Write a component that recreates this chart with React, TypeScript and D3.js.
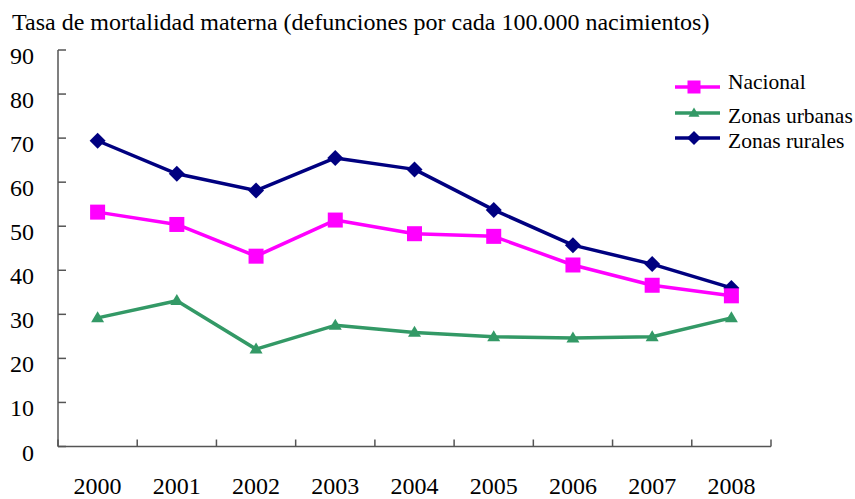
import React from "react";
import * as d3 from "d3";

const years = ["2000", "2001", "2002", "2003", "2004", "2005", "2006", "2007", "2008"];
const nacional = [53.2, 50.4, 43.2, 51.4, 48.3, 47.7, 41.2, 36.6, 34.2];
const urbanas = [29.2, 33.1, 22.1, 27.5, 25.9, 24.9, 24.6, 24.9, 29.2];
const rurales = [69.4, 61.9, 58.1, 65.5, 62.9, 53.7, 45.7, 41.4, 36.0];
const yTicks = [0, 10, 20, 30, 40, 50, 60, 70, 80, 90];
const title = "Tasa de mortalidad materna (defunciones por cada 100.000 nacimientos)";
const seriesNames = ["Nacional", "Zonas urbanas", "Zonas rurales"];

const W = 855, H = 499;
const left = 58, right = 771, top = 50, bottom = 446.5;
const font = "'Liberation Serif', 'Times New Roman', serif";

function marker(kind: string, x: number, y: number, s: number, color: string, key?: string) {
  if (kind === "square") {
    return <rect key={key} x={x - s / 2} y={y - s / 2} width={s} height={s} fill={color} />;
  }
  if (kind === "diamond") {
    const r = s / 2;
    return <path key={key} d={`M${x},${y - r}L${x + r},${y}L${x},${y + r}L${x - r},${y}Z`} fill={color} />;
  }
  const r = s / 2;
  const h = s * 0.85;
  return <path key={key} d={`M${x},${y - h * 0.6}L${x + r},${y + h * 0.4}L${x - r},${y + h * 0.4}Z`} fill={color} />;
}

export default function App() {
  const x = d3.scaleBand<string>().domain(years).range([left, right]);
  const y = d3.scaleLinear().domain([0, 90]).range([bottom, top]);
  const cx = (d: string) => (x(d) as number) + x.bandwidth() / 2;
  const line = d3.line<number>().x((_, i) => cx(years[i])).y((v) => y(v));

  const series = [
    { name: seriesNames[2], data: rurales, color: "#000080", kind: "diamond", size: 16 },
    { name: seriesNames[0], data: nacional, color: "#FF00FF", kind: "square", size: 15 },
    { name: seriesNames[1], data: urbanas, color: "#339966", kind: "triangle", size: 13 },
  ];
  const legend = [
    { name: seriesNames[0], color: "#FF00FF", kind: "square", size: 13, ly: 87, ty: 89 },
    { name: seriesNames[1], color: "#339966", kind: "triangle", size: 11, ly: 113, ty: 123 },
    { name: seriesNames[2], color: "#000080", kind: "diamond", size: 14, ly: 138, ty: 148 },
  ];
  const boundaries = years.map((d) => x(d) as number).concat([right]);

  return (
    <svg width={W} height={H} style={{ position: "absolute", left: 0, top: 0, background: "#fff" }}>
      <text x={12} y={30} fontFamily={font} fontSize={24} fill="#000">{title}</text>
      <line x1={left} y1={top} x2={left} y2={bottom} stroke="#555" strokeWidth={1.5} />
      <line x1={left} y1={bottom} x2={right} y2={bottom} stroke="#555" strokeWidth={1.5} />
      {yTicks.map((t) => (
        <g key={t}>
          <line x1={left} x2={left + 8} y1={y(t)} y2={y(t)} stroke="#555" strokeWidth={1.5} />
          <text x={34} y={y(t) + 14} textAnchor="end" fontFamily={font} fontSize={24} fill="#000">{t}</text>
        </g>
      ))}
      {boundaries.map((b, i) => (
        <line key={i} x1={b} x2={b} y1={bottom} y2={bottom - 7} stroke="#555" strokeWidth={1.5} />
      ))}
      {years.map((d) => (
        <text key={d} x={cx(d)} y={494} textAnchor="middle" fontFamily={font} fontSize={24} fill="#000">{d}</text>
      ))}
      {series.map((s) => (
        <g key={s.name}>
          <path d={line(s.data) as string} fill="none" stroke={s.color} strokeWidth={3.5} strokeLinejoin="round" />
          {s.data.map((v, i) => marker(s.kind, cx(years[i]), y(v), s.size, s.color, s.name + i))}
        </g>
      ))}
      {legend.map((l) => (
        <g key={l.name}>
          <line x1={675} x2={720} y1={l.ly} y2={l.ly} stroke={l.color} strokeWidth={3.5} />
          {marker(l.kind, 694, l.ly, l.size, l.color)}
          <text x={728} y={l.ty} fontFamily={font} fontSize={21.5} fill="#000">{l.name}</text>
        </g>
      ))}
    </svg>
  );
}
